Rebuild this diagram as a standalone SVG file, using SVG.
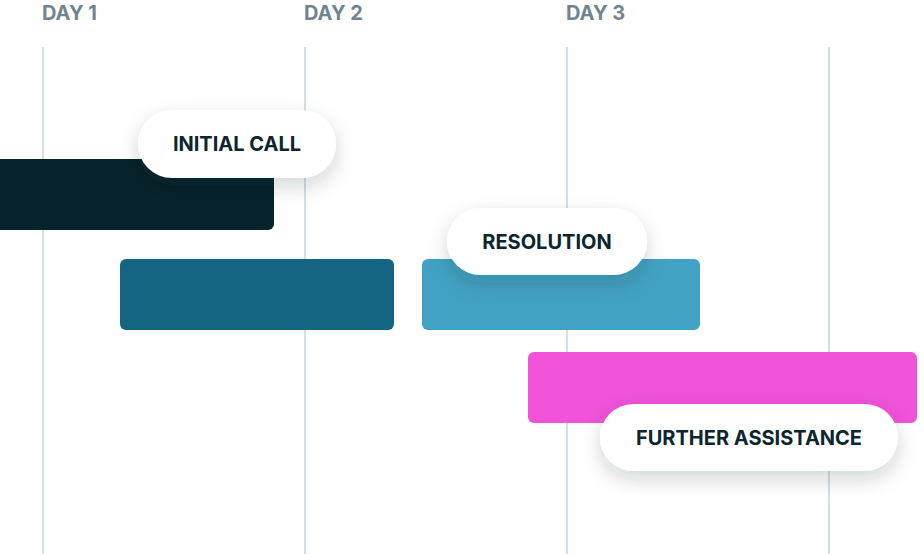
<svg xmlns="http://www.w3.org/2000/svg" width="924" height="554" viewBox="0 0 924 554">
<defs>
<filter id="sh" x="-30%" y="-50%" width="160%" height="220%"><feDropShadow dx="0" dy="8" stdDeviation="10" flood-color="#0b2630" flood-opacity="0.18"/></filter>
<style>
.grid{stroke:#d5dee4;stroke-width:2}
.day{font-family:Inter,"Liberation Sans",sans-serif;font-weight:700;font-size:20px;fill:#6f8590}
.pill{fill:#fff;filter:url(#sh)}
.lbl{font-family:Inter,"Liberation Sans",sans-serif;font-weight:700;font-size:20px;fill:#0b2630;text-anchor:middle}
</style>
</defs>
<rect width="924" height="554" fill="#fff"/>
<g id="grid">
<line class="grid" x1="43" y1="47" x2="43" y2="554"/>
<line class="grid" x1="305" y1="47" x2="305" y2="554"/>
<line class="grid" x1="567" y1="47" x2="567" y2="554"/>
<line class="grid" x1="829" y1="47" x2="829" y2="554"/>
<text class="day" x="42" y="20">DAY 1</text>
<text class="day" x="304" y="20">DAY 2</text>
<text class="day" x="566" y="20">DAY 3</text>
</g>
<g id="bars">
<rect x="-6" y="159" width="280" height="71" rx="6" fill="#06222a"/>
<rect x="120" y="259" width="274" height="71" rx="6" fill="#146581"/>
<rect x="422" y="259" width="278" height="71" rx="6" fill="#42a2c3"/>
<rect x="528" y="352" width="389" height="71" rx="6" fill="#f052d8"/>
</g>
<g id="initial-call"><rect class="pill" x="138" y="110" width="198" height="68" rx="34"/><text class="lbl" x="237" y="151">INITIAL CALL</text></g>
<g id="resolution"><rect class="pill" x="447" y="208" width="200" height="67" rx="33.5"/><text class="lbl" x="547" y="249">RESOLUTION</text></g>
<g id="further-assistance"><rect class="pill" x="600" y="404" width="298" height="67" rx="33.5"/><text class="lbl" x="749" y="445">FURTHER ASSISTANCE</text></g>
<g id="connectors"/>
</svg>
